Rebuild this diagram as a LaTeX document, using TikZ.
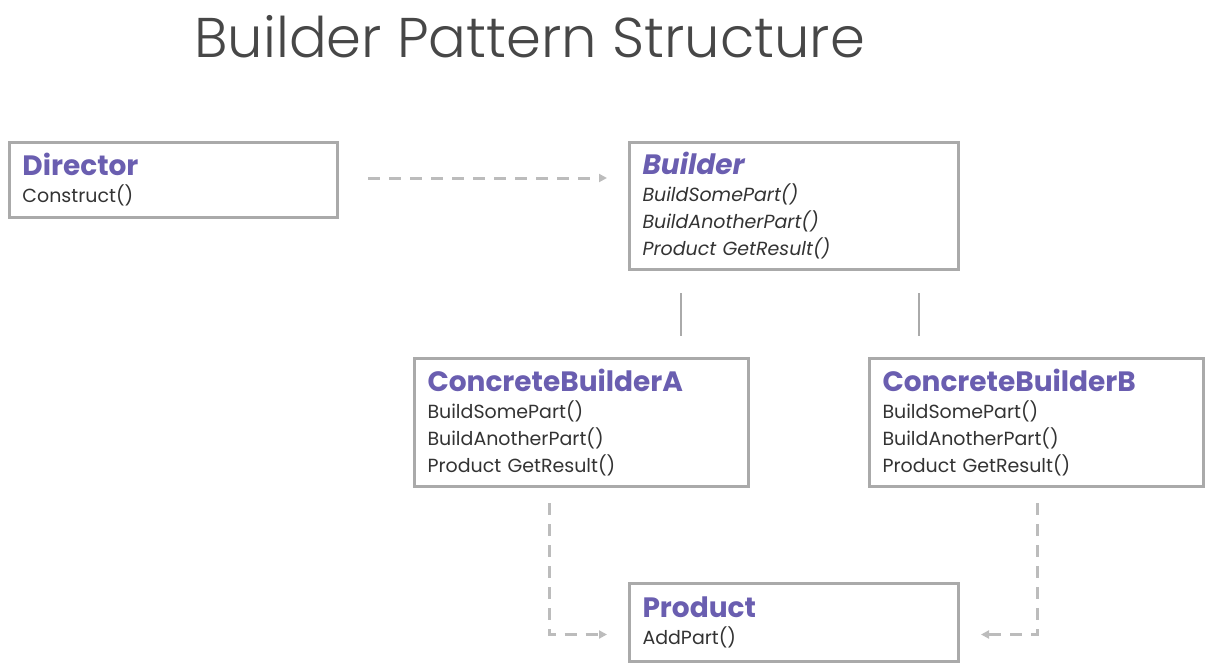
\documentclass[tikz,border=0pt]{standalone}
\usepackage{fontspec}
\setmainfont{Poppins}
\newfontfamily\titlefont{Poppins Light}
\usetikzlibrary{arrows.meta}
\definecolor{umlpurple}{RGB}{106, 94, 176}
\definecolor{boxgrey}{RGB}{170, 170, 170}
\definecolor{linkgrey}{RGB}{188, 188, 188}
\definecolor{textgrey}{RGB}{51, 51, 51}

\begin{document}
\begin{tikzpicture}[x=1pt, y=-1pt,
    cls/.style={draw=boxgrey, line width=3pt, rectangle, anchor=north west, align=left,
        inner xsep=13pt, inner ysep=0pt, text=textgrey, font=\fontsize{19}{27}\selectfont},
    dep/.style={draw=linkgrey, line width=3pt, dash pattern=on 12pt off 9pt,
        -{Triangle[length=8pt, width=8pt]}},
    gen/.style={draw=boxgrey, line width=2.5pt}]
    \useasboundingbox (0,0) rectangle (1211,670);

    \node[anchor=base west, text=textgrey!90, font=\titlefont\fontsize{56}{56}\selectfont] (title) at (191,57) {Builder Pattern Structure};

    \node[cls, text width=302pt, minimum height=75pt] (director) at (8,141)
        {{\fontsize{28}{28}\selectfont\bfseries\color{umlpurple}Director}\\Construct()};
    \node[cls, text width=303pt, minimum height=127pt] (builder) at (628,141)
        {{\fontsize{28}{28}\selectfont\bfseries\itshape\color{umlpurple}Builder}\\\itshape BuildSomePart()\\\itshape BuildAnotherPart()\\\itshape Product GetResult()};
    \node[cls, text width=308pt, minimum height=128pt] (cba) at (413,357)
        {{\fontsize{28}{28}\selectfont\bfseries\color{umlpurple}ConcreteBuilderA}\\BuildSomePart()\\BuildAnotherPart()\\Product GetResult()};
    \node[cls, text width=308pt, minimum height=128pt] (cbb) at (868,357)
        {{\fontsize{28}{28}\selectfont\bfseries\color{umlpurple}ConcreteBuilderB}\\BuildSomePart()\\BuildAnotherPart()\\Product GetResult()};
    \node[cls, text width=303pt, minimum height=78pt] (product) at (628,582)
        {{\fontsize{28}{28}\selectfont\bfseries\color{umlpurple}Product}\\AddPart()};

    % uses
    \draw[dep, shorten <=29pt, shorten >=21pt] ([yshift=2pt]director.east) -- ([yshift=2pt]director.east -| builder.west);
    % inheritance
    \draw[gen, shorten <=22pt, shorten >=21pt] ([xshift=53pt]builder.south west) -- ([xshift=53pt]builder.south west |- cba.north);
    \draw[gen, shorten <=22pt, shorten >=21pt] ([xshift=-41pt]builder.south east) -- ([xshift=-41pt]builder.south east |- cbb.north);
    % creates
    \draw[dep] ([xshift=136pt, yshift=-15pt]cba.south west) |- ([xshift=-21pt, yshift=-12pt]product.west);
    \draw[dep] ([xshift=169pt, yshift=-15pt]cbb.south west) |- ([xshift=21pt, yshift=-12pt]product.east);
\end{tikzpicture}
\end{document}
